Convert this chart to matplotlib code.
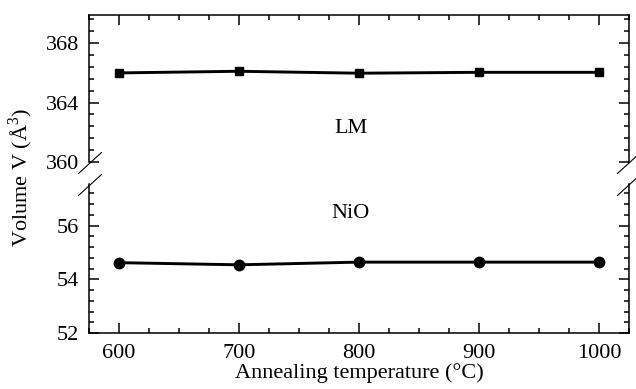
import matplotlib
matplotlib.use('Agg')
from matplotlib import pyplot as plt
from matplotlib.ticker import MultipleLocator
from matplotlib.lines import Line2D

plt.rcParams['font.family'] = ['Liberation Serif', 'DejaVu Serif']
plt.rcParams['mathtext.fontset'] = 'custom'
plt.rcParams['mathtext.rm'] = 'Liberation Serif'

# annealing temperatures (C)
temps = [600, 700, 800, 900, 1000]
# cell volumes (A^3)
vol_lm = [366.00, 366.11, 365.98, 366.04, 366.04]
vol_nio = [54.62, 54.54, 54.64, 54.64, 54.64]

W, H = 636, 389
fig = plt.figure(figsize=(W / 100, H / 100), dpi=100)

left, right = 89 / W, 629 / W
ax_top = fig.add_axes([left, 1 - 162 / H, right - left, (162 - 15) / H])
ax_bot = fig.add_axes([left, 1 - 333 / H, right - left, (333 - 184) / H])

ax_top.plot(temps, vol_lm, color='black', lw=2.1, marker='s', ms=6)
ax_bot.plot(temps, vol_nio, color='black', lw=2.1, marker='o', ms=7.5)

ax_top.set_ylim(360, 369.9)
ax_bot.set_ylim(52, 57.55)
for ax in (ax_top, ax_bot):
    ax.set_xlim(575, 1025)
    ax.xaxis.set_major_locator(MultipleLocator(100))
    ax.xaxis.set_minor_locator(MultipleLocator(25))
    for s in ax.spines.values():
        s.set_linewidth(1.1)
    ax.tick_params(which='both', direction='in', top=True, right=True,
                   width=1.1, labelsize=16)
    ax.tick_params(axis='y', pad=7)
    ax.tick_params(axis='x', pad=8)
    ax.tick_params(which='major', length=7)
    ax.tick_params(which='minor', length=3.5)

ax_top.yaxis.set_major_locator(MultipleLocator(4))
ax_top.yaxis.set_minor_locator(MultipleLocator(0.8))
ax_bot.yaxis.set_major_locator(MultipleLocator(2))
ax_bot.yaxis.set_minor_locator(MultipleLocator(0.4))

ax_top.spines['bottom'].set_visible(False)
ax_top.tick_params(which='both', bottom=False, labelbottom=False)
ax_bot.spines['top'].set_visible(False)
ax_bot.tick_params(which='both', top=False)

ax_top.text(793, 362.25, 'LM', fontsize=16, ha='center', va='center')
ax_bot.text(793, 56.45, 'NiO', fontsize=16, ha='center', va='center')

ax_bot.set_xlabel('Annealing temperature (\u00b0C)', fontsize=16, labelpad=0)
fig.text(21 / W, 1 - 177 / H, 'Volume V (\u00c5$^3$)', fontsize=16,
         rotation=90, ha='center', va='center')

# break marks
for yc in (163, 185):
    for xc in (left * W + 1, right * W):
        fig.add_artist(Line2D([(xc - 11.5) / W, (xc + 11.5) / W],
                              [1 - (yc + 10.5) / H, 1 - (yc - 10.5) / H],
                              color='black', lw=0.8))

fig.savefig('out.png', dpi=100)
